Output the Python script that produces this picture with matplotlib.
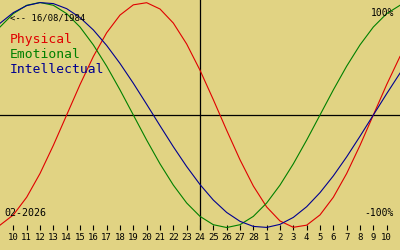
import matplotlib
matplotlib.use("Agg")
import matplotlib.pyplot as plt

# day offsets relative to today (24/02/2026), one value per day
offsets = list(range(-15, 16))

physical = [-0.979, -0.888, -0.731, -0.520, -0.270, 0.0, 0.270, 0.520, 0.731, 0.888,
            0.979, 0.998, 0.942, 0.817, 0.631, 0.398, 0.136, -0.136, -0.398, -0.631,
            -0.817, -0.942, -0.998, -0.979, -0.888, -0.731, -0.520, -0.270, 0.0, 0.270,
            0.520]
emotional = [0.782, 0.901, 0.975, 1.0, 0.975, 0.901, 0.782, 0.623, 0.434, 0.223,
             0.0, -0.223, -0.434, -0.623, -0.782, -0.901, -0.975, -1.0, -0.975, -0.901,
             -0.782, -0.623, -0.434, -0.223, 0.0, 0.223, 0.434, 0.623, 0.782, 0.901,
             0.975]
intellectual = [0.815, 0.910, 0.972, 0.999, 0.990, 0.945, 0.866, 0.756, 0.618, 0.458,
                0.282, 0.095, -0.095, -0.282, -0.458, -0.618, -0.756, -0.866, -0.945, -0.990,
                -0.999, -0.972, -0.910, -0.815, -0.690, -0.541, -0.372, -0.189, 0.0, 0.189,
                0.372]

tick_offsets = list(range(-14, 15))
day_labels = [10, 11, 12, 13, 14, 15, 16, 17, 18, 19, 20, 21, 22, 23, 24, 25, 26, 27, 28,
              1, 2, 3, 4, 5, 6, 7, 8, 9, 10]

series = [("Physical", physical, "#e00000"),
          ("Emotional", emotional, "#008000"),
          ("Intellectual", intellectual, "#000090")]

bg = "#e1d383"
mono = "DejaVu Sans Mono"

fig = plt.figure(figsize=(4, 2.5), dpi=100)
fig.patch.set_facecolor(bg)
ax = fig.add_axes([0, 20 / 250, 1, 230 / 250])
ax.set_facecolor(bg)
for s in ax.spines.values():
    s.set_visible(False)

ax.axhline(0, color="black", lw=0.9)
ax.axvline(0, color="black", lw=0.9)

for name, vals, col in series:
    ax.plot(offsets, vals, color=col, lw=0.8)

ax.set_xlim(-15, 15)
ax.set_ylim(-1.022, 1.022)
ax.set_yticks([])
ax.set_xticks(tick_offsets)
ax.set_xticklabels([str(d) for d in day_labels], fontfamily=mono, fontsize=6.5)
ax.tick_params(axis="x", direction="in", length=3.6, width=0.8, pad=2.5, colors="black")

# texts
fig.text(10 / 400, 1 - 20.7 / 250, "<-- 16/08/1984", fontfamily=mono, fontsize=6.4,
         va="baseline", ha="left")
for i, (name, vals, col) in enumerate(series):
    fig.text(10 / 400, 1 - (42.7 + 15 * i) / 250, name, color=col, fontfamily=mono,
             fontsize=9.4, va="baseline", ha="left")
fig.text(394 / 400, 1 - 15.7 / 250, "100%", fontfamily=mono, fontsize=7,
         va="baseline", ha="right")
fig.text(394 / 400, 1 - 216 / 250, "-100%", fontfamily=mono, fontsize=7,
         va="baseline", ha="right")
fig.text(4 / 400, 1 - 216 / 250, "02-2026", fontfamily=mono, fontsize=7.2,
         va="baseline", ha="left")

fig.savefig("out.png", dpi=100, facecolor=bg)
